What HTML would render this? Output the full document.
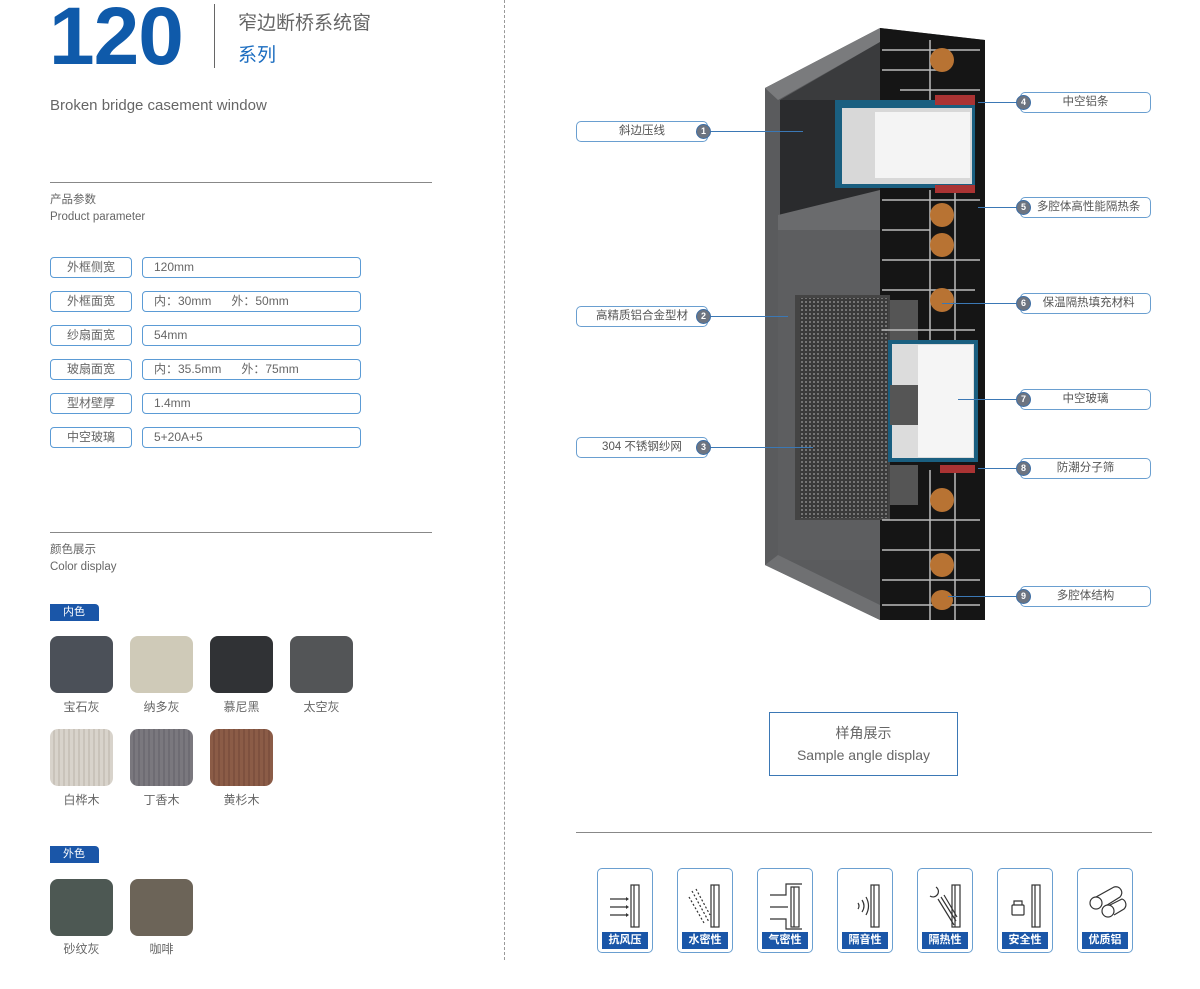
<!DOCTYPE html>
<html><head><meta charset="utf-8"><style>
*{margin:0;padding:0;box-sizing:border-box}
body{width:1200px;height:989px;background:#fff;position:relative;overflow:hidden;font-family:"Liberation Sans","Noto Sans CJK SC",sans-serif;color:#666}
.a{position:absolute}
.pl{position:absolute;left:50px;width:82px;height:21px;border:1.5px solid #5b9bd5;border-radius:4px;font-size:12px;text-align:center;line-height:18px;color:#666}
.pv{position:absolute;left:142px;width:219px;height:21px;border:1.5px solid #5b9bd5;border-radius:4px;font-size:12px;line-height:18px;padding-left:11px;color:#666}
.sw{position:absolute;width:63px;height:57px;border-radius:8px}
.sl{position:absolute;width:63px;text-align:center;font-size:12px;color:#666}
.tag{position:absolute;left:50px;width:49px;height:17px;background:#1a56a8;color:#fff;font-size:11px;line-height:17px;padding-left:13px;border-top-right-radius:4px}
.cb{position:absolute;height:21px;border:1.5px solid #6a9fd0;border-radius:5px;font-size:11.5px;line-height:18px;text-align:center;color:#555;background:#fff}
.cc{position:absolute;width:15px;height:15px;border-radius:50%;background:#6d7480;border:1.5px solid #3d6ea5;color:#fff;font-size:9px;line-height:12px;text-align:center;font-weight:bold}
.ln{position:absolute;height:1px;background:#3b78b5}
.ic{position:absolute;top:868px;width:56px;height:85px;border:1.5px solid #6a9fd0;border-radius:5px;background:#fff}
.ic .b{position:absolute;left:4px;right:4px;bottom:3px;height:17px;background:#1a56a8;color:#fff;font-size:11px;font-weight:bold;text-align:center;line-height:17px}
.ic svg{position:absolute;left:6px;top:8px}
</style></head><body>
<div class="a" style="left:49px;top:-4px;font-size:82px;font-weight:bold;color:#0f5aaa;letter-spacing:-1px;line-height:82px">120</div>
<div class="a" style="left:214px;top:4px;width:1px;height:64px;background:#666"></div>
<div class="a" style="left:238px;top:8px;font-size:19px;color:#666">窄边断桥系统窗</div>
<div class="a" style="left:238px;top:40px;font-size:19px;color:#1a6cc0">系列</div>
<div class="a" style="left:50px;top:97px;font-size:15px;color:#666">Broken bridge casement window</div>
<div class="a" style="left:50px;top:182px;width:382px;height:1px;background:#888"></div>
<div class="a" style="left:50px;top:192px;font-size:11.5px;line-height:17px">产品参数<br>Product parameter</div>
<div class="pl" style="top:257px">外框侧宽</div><div class="pv" style="top:257px">120mm</div>
<div class="pl" style="top:291px">外框面宽</div><div class="pv" style="top:291px">内：30mm &nbsp; &nbsp; &nbsp;外：50mm</div>
<div class="pl" style="top:325px">纱扇面宽</div><div class="pv" style="top:325px">54mm</div>
<div class="pl" style="top:359px">玻扇面宽</div><div class="pv" style="top:359px">内：35.5mm &nbsp; &nbsp; &nbsp;外：75mm</div>
<div class="pl" style="top:393px">型材壁厚</div><div class="pv" style="top:393px">1.4mm</div>
<div class="pl" style="top:427px">中空玻璃</div><div class="pv" style="top:427px">5+20A+5</div>
<div class="a" style="left:50px;top:532px;width:382px;height:1px;background:#888"></div>
<div class="a" style="left:50px;top:542px;font-size:11.5px;line-height:17px">颜色展示<br>Color display</div>
<div class="tag" style="top:604px">内色</div>
<div class="sw" style="left:50px;top:636px;background:#4b5058"></div><div class="sl" style="left:50px;top:698px">宝石灰</div>
<div class="sw" style="left:130px;top:636px;background:#cfcab8"></div><div class="sl" style="left:130px;top:698px">纳多灰</div>
<div class="sw" style="left:210px;top:636px;background:#303235"></div><div class="sl" style="left:210px;top:698px">慕尼黑</div>
<div class="sw" style="left:290px;top:636px;background:#535557"></div><div class="sl" style="left:290px;top:698px">太空灰</div>
<div class="sw" style="left:50px;top:729px;background:repeating-linear-gradient(90deg,#d8d3cb 0 3px,#c9c3ba 3px 5px)"></div><div class="sl" style="left:50px;top:791px">白桦木</div>
<div class="sw" style="left:130px;top:729px;background:repeating-linear-gradient(90deg,#7a787e 0 3px,#6e6c73 3px 5px)"></div><div class="sl" style="left:130px;top:791px">丁香木</div>
<div class="sw" style="left:210px;top:729px;background:repeating-linear-gradient(90deg,#8b5c47 0 3px,#7e513f 3px 5px)"></div><div class="sl" style="left:210px;top:791px">黄杉木</div>
<div class="tag" style="top:846px">外色</div>
<div class="sw" style="left:50px;top:879px;background:#4d5853"></div><div class="sl" style="left:50px;top:940px">砂纹灰</div>
<div class="sw" style="left:130px;top:879px;background:#6c6458"></div><div class="sl" style="left:130px;top:940px">咖啡</div>
<div class="a" style="left:504px;top:0;width:0;height:960px;border-left:1px dashed #999"></div>

<svg class="a" style="left:740px;top:20px" width="260" height="610" viewBox="740 20 260 610">
<defs><pattern id="m" width="4" height="4" patternUnits="userSpaceOnUse"><rect width="4" height="4" fill="#3a3a3a"/><circle cx="2" cy="2" r="1" fill="#888"/></pattern></defs>
<polygon points="765,88 880,28 985,40 985,620 880,620 765,565" fill="#5a5b5d"/>
<polygon points="880,28 985,40 985,620 880,620" fill="#151515"/>
<polygon points="765,88 880,28 880,42 778,100" fill="#7a7b7d"/>
<rect x="780" y="100" width="100" height="115" fill="#2a2b2d"/>
<polygon points="780,100 880,42 880,100" fill="#3a3b3d"/>
<rect x="835" y="100" width="140" height="88" fill="#1a5f80"/>
<rect x="842" y="108" width="130" height="76" fill="#d8d8d8"/>
<rect x="875" y="112" width="95" height="66" fill="#f4f4f4"/>
<polygon points="778,215 880,190 880,230 778,240" fill="#6a6b6d"/>
<rect x="778" y="230" width="102" height="330" fill="#5d5e60"/>
<rect x="795" y="295" width="95" height="225" fill="#444"/>
<rect x="800" y="298" width="88" height="220" fill="url(#m)"/>
<rect x="888" y="340" width="90" height="122" fill="#1a5f80"/>
<rect x="892" y="344" width="82" height="114" fill="#dcdcdc"/>
<rect x="918" y="345" width="55" height="112" fill="#f5f5f5"/>
<rect x="890" y="300" width="28" height="40" fill="#555"/><rect x="890" y="385" width="28" height="40" fill="#555"/><rect x="890" y="465" width="28" height="40" fill="#555"/>
<g stroke="#bbb" stroke-width="1.5" fill="none">
<path d="M882,50 H980 M882,70 H940 M900,90 H980 M882,200 H980 M882,230 H930 M882,260 H980 M882,290 H975 M882,330 H975 M882,520 H980 M882,550 H980 M882,580 H980 M882,605 H980 M930,40 V100 M930,190 V340 M930,470 V620 M955,190 V340 M955,470 V620"/>
</g>
<g fill="#b87333"><ellipse cx="942" cy="60" rx="12" ry="12"/><ellipse cx="942" cy="215" rx="12" ry="12"/><ellipse cx="942" cy="245" rx="12" ry="12"/><ellipse cx="942" cy="300" rx="12" ry="12"/><ellipse cx="942" cy="500" rx="12" ry="12"/><ellipse cx="942" cy="565" rx="12" ry="12"/><ellipse cx="942" cy="600" rx="11" ry="10"/></g>
<rect x="935" y="95" width="40" height="10" fill="#a33"/><rect x="935" y="185" width="40" height="8" fill="#a33"/><rect x="940" y="465" width="35" height="8" fill="#a33"/>
<polygon points="765,565 880,620 880,605 778,555" fill="#6f7072"/>
</svg>

<div class="ln" style="left:708px;top:131px;width:95px"></div>
<div class="ln" style="left:708px;top:316px;width:80px"></div>
<div class="ln" style="left:708px;top:447px;width:105px"></div>
<div class="cb" style="left:576px;top:121px;width:132px">斜边压线</div><div class="cc" style="left:696px;top:124px">1</div>
<div class="cb" style="left:576px;top:306px;width:132px">高精质铝合金型材</div><div class="cc" style="left:696px;top:309px">2</div>
<div class="cb" style="left:576px;top:437px;width:132px">304 不锈钢纱网</div><div class="cc" style="left:696px;top:440px">3</div>

<div class="ln" style="left:978px;top:102px;width:45px"></div>
<div class="ln" style="left:978px;top:207px;width:45px"></div>
<div class="ln" style="left:942px;top:303px;width:80px"></div>
<div class="ln" style="left:958px;top:399px;width:65px"></div>
<div class="ln" style="left:978px;top:468px;width:45px"></div>
<div class="ln" style="left:948px;top:596px;width:75px"></div>
<div class="cb" style="left:1020px;top:92px;width:131px">中空铝条</div><div class="cc" style="left:1016px;top:95px">4</div>
<div class="cb" style="left:1020px;top:197px;width:131px">&nbsp; 多腔体高性能隔热条</div><div class="cc" style="left:1016px;top:200px">5</div>
<div class="cb" style="left:1020px;top:293px;width:131px">&nbsp; 保温隔热填充材料</div><div class="cc" style="left:1016px;top:296px">6</div>
<div class="cb" style="left:1020px;top:389px;width:131px">中空玻璃</div><div class="cc" style="left:1016px;top:392px">7</div>
<div class="cb" style="left:1020px;top:458px;width:131px">防潮分子筛</div><div class="cc" style="left:1016px;top:461px">8</div>
<div class="cb" style="left:1020px;top:586px;width:131px">多腔体结构</div><div class="cc" style="left:1016px;top:589px">9</div>

<div class="a" style="left:769px;top:712px;width:189px;height:64px;border:1.5px solid #3b78b5;text-align:center;font-size:14px;line-height:22px;padding-top:9px;color:#666">样角展示<br>Sample angle display</div>
<div class="a" style="left:576px;top:832px;width:576px;height:1px;background:#888"></div>

<div class="ic" style="left:597px"><svg width="44" height="55"><g stroke="#333" fill="none" stroke-width="1.2"><rect x="27" y="8" width="8" height="42"/><line x1="30" y1="8" x2="30" y2="50"/><path d="M6,22H22M6,30H22M6,38H22"/></g><g fill="#333"><path d="M22,20l3,2-3,2zM22,28l3,2-3,2zM22,36l3,2-3,2z"/></g></svg><div class="b">抗风压</div></div>
<div class="ic" style="left:677px"><svg width="44" height="55"><g stroke="#333" fill="none" stroke-width="1.2"><rect x="27" y="8" width="8" height="42"/><line x1="30" y1="8" x2="30" y2="50"/><path d="M8,14L25,45M12,12L26,38M5,20L20,46" stroke-dasharray="2 2"/></g></svg><div class="b">水密性</div></div>
<div class="ic" style="left:757px"><svg width="44" height="55"><g stroke="#333" fill="none" stroke-width="1.2"><rect x="27" y="10" width="8" height="40"/><line x1="30" y1="10" x2="30" y2="50"/><path d="M6,18H22V7H38M6,30H24M6,42H22V52H38"/></g></svg><div class="b">气密性</div></div>
<div class="ic" style="left:837px"><svg width="44" height="55"><g stroke="#333" fill="none" stroke-width="1.2"><rect x="27" y="8" width="8" height="42"/><line x1="30" y1="8" x2="30" y2="50"/><path d="M14,26q2,3 0,6M18,23q4,6 0,12M22,20q5,9 0,18"/></g></svg><div class="b">隔音性</div></div>
<div class="ic" style="left:917px"><svg width="44" height="55"><g stroke="#333" fill="none" stroke-width="1.2"><rect x="28" y="8" width="8" height="42"/><line x1="31" y1="8" x2="31" y2="50"/><path d="M12,10a5,5 0 0 1-6,9M14,22L30,48M17,20L32,44M20,18L33,40"/></g></svg><div class="b">隔热性</div></div>
<div class="ic" style="left:997px"><svg width="44" height="55"><g stroke="#333" fill="none" stroke-width="1.2"><rect x="28" y="8" width="8" height="42"/><line x1="31" y1="8" x2="31" y2="50"/><rect x="8" y="28" width="12" height="10" rx="1"/><path d="M10,28v-4h8v4"/></g></svg><div class="b">安全性</div></div>
<div class="ic" style="left:1077px"><svg width="44" height="55"><g stroke="#333" fill="#fff" stroke-width="1.2"><path d="M12,20L30,10A6,6 0 0 1 36,20L20,30"/><circle cx="12" cy="26" r="6"/><path d="M26,28L38,22A6,6 0 0 1 40,32L30,38"/><circle cx="24" cy="34" r="6"/></g></svg><div class="b">优质铝</div></div>
</body></html>
